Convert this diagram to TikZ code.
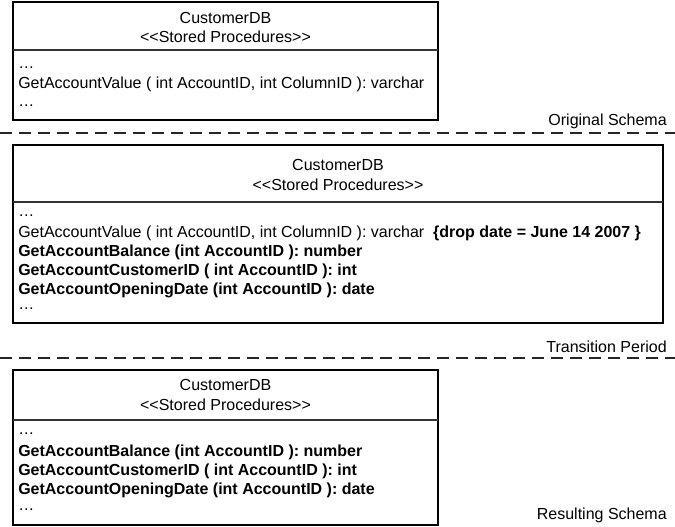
\documentclass[tikz,border=0pt]{standalone}
\usepackage{fontspec}
\setmainfont{Liberation Sans}
\begin{document}
\begin{tikzpicture}[x=0.75pt,y=-0.75pt,
  box/.style={draw=black,line width=0.9pt},
  sep/.style={draw=black!80,line width=1pt},
  phase/.style={draw=black!85,line width=1pt,dash pattern=on 9pt off 5.25pt},
  title/.style={inner sep=0pt,font=\fontsize{12}{14}\selectfont},
  row/.style={inner sep=0pt,anchor=west,text height=8.6pt,text depth=2.5pt,font=\fontsize{12}{14}\selectfont},
  brow/.style={row,font=\fontsize{12}{14}\selectfont\bfseries},
  plabel/.style={inner sep=0pt,anchor=east,font=\fontsize{12}{14}\selectfont}]
\useasboundingbox (0,0) rectangle (675,527);
% ---------- Box 1 ----------
\draw[box] (13,2) rectangle (438,120);
\draw[sep] (13,50) -- (438,50);
\node[title] (t1a) at (225.5,18) {CustomerDB};
\node[title] (t1b) at (225.5,37) {<{}<Stored Procedures>{}>};
\node[row] (r1a) at (18,64) {…};
\node[row] (r1b) at (18,84) {GetAccountValue ( int AccountID, int ColumnID ): varchar};
\node[row] (r1c) at (18,102) {…};
% ---------- Separator 1 ----------
\coordinate (d1s) at (0,133);
\coordinate (d1e) at (675,133);
\draw[phase] (d1s) -- (d1e);
\node[plabel] (l1) at (667,121) {Original Schema};
% ---------- Box 2 ----------
\draw[box] (13,145) rectangle (663,323);
\draw[sep] (13,202) -- (663,202);
\node[title] (t2a) at (338,165) {CustomerDB};
\node[title] (t2b) at (338,185) {<{}<Stored Procedures>{}>};
\node[row] (r2a) at (18,212) {…};
\node[row] (r2b) at (18,233) {GetAccountValue ( int AccountID, int ColumnID ): varchar \ \textbf{\{drop date = June 14 2007 \}}};
\node[brow] (r2c) at (18,252) {GetAccountBalance (int AccountID ): number};
\node[brow] (r2d) at (18,271) {GetAccountCustomerID ( int AccountID ): int};
\node[brow] (r2e) at (18,290) {GetAccountOpeningDate (int AccountID ): date};
\node[row] (r2f) at (18,305) {…};
% ---------- Separator 2 ----------
\coordinate (d2s) at (0,358);
\coordinate (d2e) at (675,358);
\draw[phase] (d2s) -- (d2e);
\node[plabel] (l2) at (667,347) {Transition Period};
% ---------- Box 3 ----------
\draw[box] (13,370) rectangle (438,525);
\draw[sep] (13,420) -- (438,420);
\node[title] (t3a) at (225.5,385) {CustomerDB};
\node[title] (t3b) at (225.5,405) {<{}<Stored Procedures>{}>};
\node[row] (r3a) at (18,430) {…};
\node[brow] (r3b) at (18,452) {GetAccountBalance (int AccountID ): number};
\node[brow] (r3c) at (18,471) {GetAccountCustomerID ( int AccountID ): int};
\node[brow] (r3d) at (18,490) {GetAccountOpeningDate (int AccountID ): date};
\node[row] (r3e) at (18,506) {…};
\node[plabel] (l3) at (667,515) {Resulting Schema};
\end{tikzpicture}
\end{document}
